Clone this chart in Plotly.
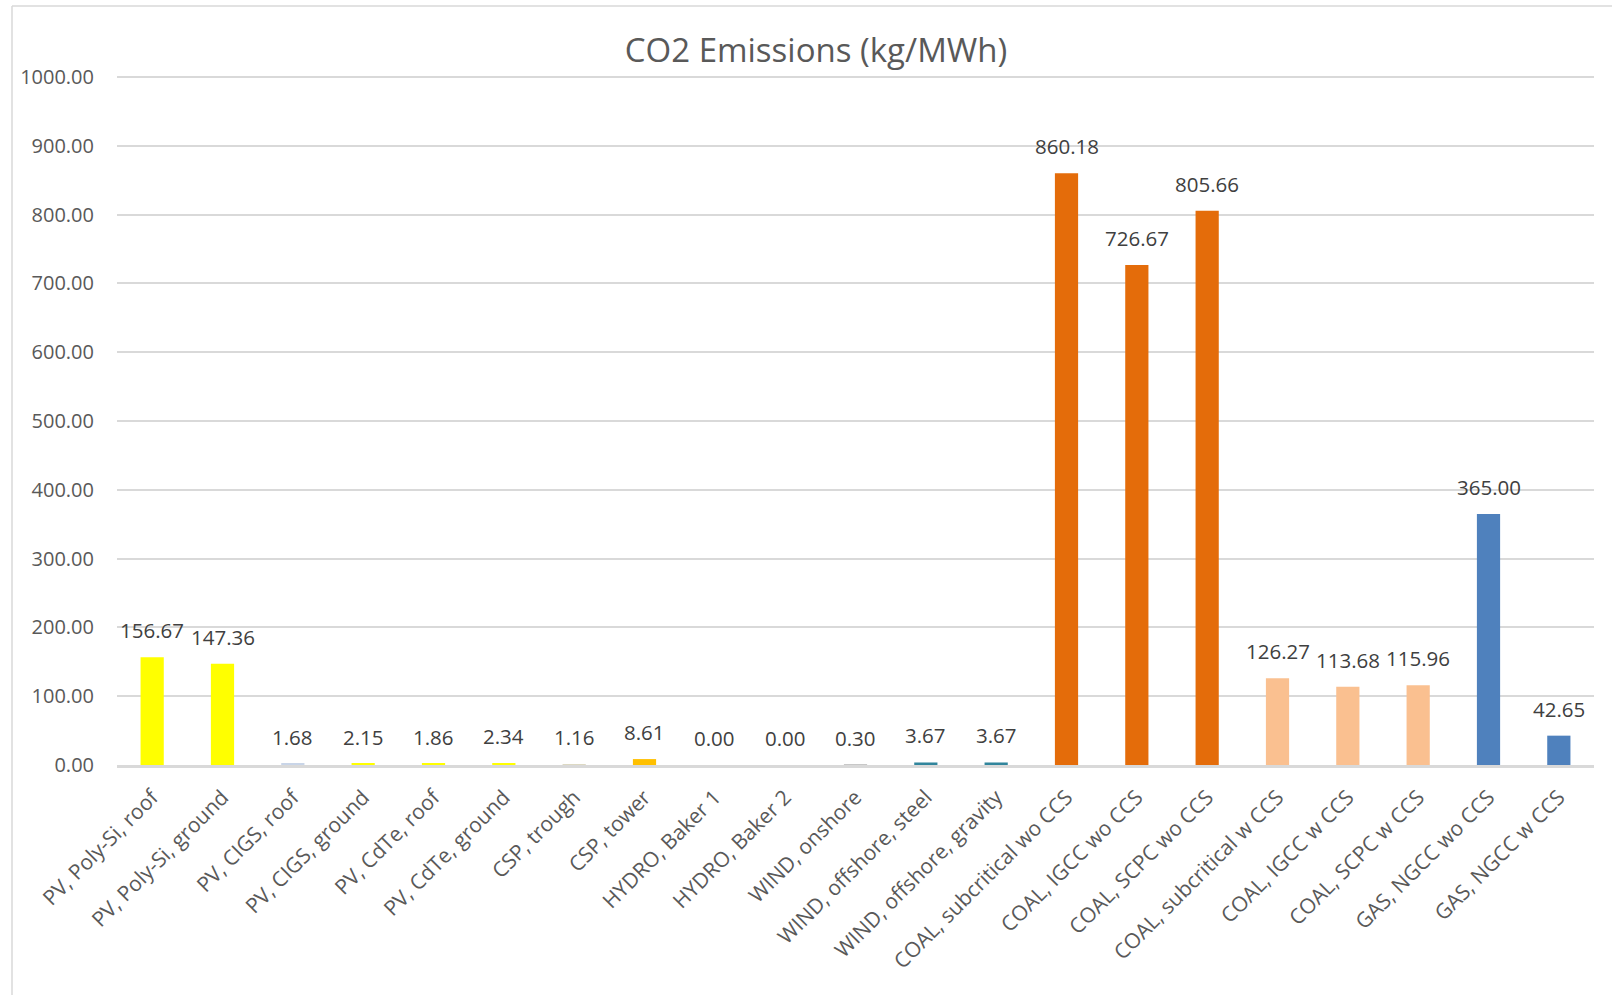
import plotly.graph_objects as go

# Life-cycle CO2 emissions by generation technology
technologies = [
    "PV, Poly-Si, roof", "PV, Poly-Si, ground", "PV, CIGS, roof", "PV, CIGS, ground",
    "PV, CdTe, roof", "PV, CdTe, ground", "CSP, trough", "CSP, tower",
    "HYDRO, Baker 1", "HYDRO, Baker 2", "WIND, onshore", "WIND, offshore, steel",
    "WIND, offshore, gravity", "COAL, subcritical wo CCS", "COAL, IGCC wo CCS",
    "COAL, SCPC wo CCS", "COAL, subcritical w CCS", "COAL, IGCC w CCS",
    "COAL, SCPC w CCS", "GAS, NGCC wo CCS", "GAS, NGCC w CCS",
]
co2_kg_per_mwh = [
    156.67, 147.36, 1.68, 2.15, 1.86, 2.34, 1.16, 8.61,
    0.00, 0.00, 0.30, 3.67, 3.67, 860.18, 726.67, 805.66,
    126.27, 113.68, 115.96, 365.00, 42.65,
]
bar_colors = [
    "#FFFF00", "#FFFF00", "#C9D5E8", "#FFFF00", "#FFFF00", "#FFFF00", "#DDD9C3", "#FFC000",
    "#8EB4E3", "#8EB4E3", "#C8C8C8", "#31859C", "#31859C", "#E46C0A", "#E46C0A",
    "#E46C0A", "#FAC090", "#FAC090", "#FAC090", "#4F81BD", "#4F81BD",
]
y_ticks = [0, 100, 200, 300, 400, 500, 600, 700, 800, 900, 1000]

FONT = "Open Sans"
GRID = "#D9D9D9"

fig = go.Figure(
    go.Bar(
        x=technologies,
        y=co2_kg_per_mwh,
        marker=dict(color=bar_colors, line=dict(width=0)),
        cliponaxis=False,
        hoverinfo="x+y",
    )
)

# value labels above each bar
for tech, val in zip(technologies, co2_kg_per_mwh):
    fig.add_annotation(
        x=tech, y=val, text=f"{val:.2f}",
        showarrow=False, xanchor="center", yanchor="middle", yshift=27,
        font=dict(family=FONT, size=20.5, color="#404040"),
    )

fig.update_layout(
    width=1612,
    height=995,
    margin=dict(l=117, r=18, t=75, b=230),
    paper_bgcolor="white",
    plot_bgcolor="white",
    bargap=0.67,
    showlegend=False,
    title=dict(
        text="CO2 Emissions (kg/MWh)",
        x=816 / 1612,
        xanchor="center",
        y=1 - 50 / 995,
        yanchor="middle",
        font=dict(family=FONT, size=33, color="#595959"),
    ),
    font=dict(family=FONT, color="#595959"),
)

fig.update_yaxes(
    range=[0, 1003],
    tickvals=y_ticks,
    tickformat=".2f",
    showgrid=True,
    gridcolor=GRID,
    gridwidth=1.5,
    zeroline=False,
    showline=False,
    ticks="",
    ticklabelstandoff=22,
    tickfont=dict(family=FONT, size=20, color="#595959"),
)

fig.update_xaxes(
    tickangle=-45,
    showgrid=False,
    showline=True,
    linecolor=GRID,
    linewidth=2.5,
    ticks="",
    tickfont=dict(family=FONT, size=21, color="#595959"),
    ticklabelstandoff=9,
)

# chart-area frame (top and left edges)
H = 995 - 230 - 75
fig.add_shape(type="line", xref="paper", yref="paper",
              x0=(12 - 117) / 1477, x1=1.1, y0=(765 - 6) / H, y1=(765 - 6) / H,
              line=dict(color=GRID, width=1.5))
fig.add_shape(type="line", xref="paper", yref="paper",
              x0=(12 - 117) / 1477, x1=(12 - 117) / 1477, y0=(765 - 6) / H, y1=-0.4,
              line=dict(color=GRID, width=1.5))

fig.write_html("out.html")
